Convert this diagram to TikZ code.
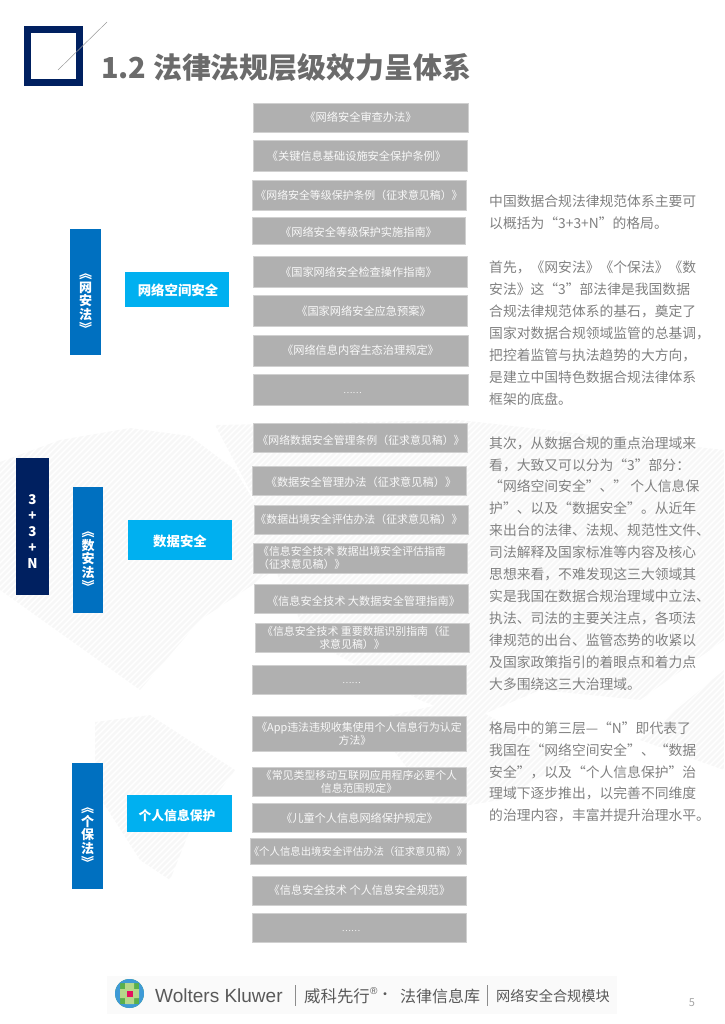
\documentclass[tikz,border=0pt]{standalone}
\usepackage{fontspec}
\setmainfont{Noto Sans CJK SC}
\newfontfamily\wkfont{Liberation Sans}
\usepackage{tikz}
\definecolor{navy}{HTML}{002060}
\definecolor{lawblue}{HTML}{0070C0}
\definecolor{skyblue}{HTML}{00B0F0}
\definecolor{lawgray}{HTML}{B0B0B0}
\definecolor{maphatch}{HTML}{F7F7F7}
\definecolor{wkblue}{HTML}{3E9AD6}
\definecolor{wkgreen}{HTML}{5AB04B}
\definecolor{wklight}{HTML}{B6D88A}
\definecolor{wkpink}{HTML}{E5125F}
\newcommand{\nudge}[2]{\hspace*{#1pt}\rule{0pt}{#2pt}}
\tikzset{
  lawbox/.style 2 args={
    fill=lawgray, draw=lawgray!60, line width=0.5pt, inner sep=0pt,
    minimum width=#1, minimum height=#2, align=center, text=white!92!lawgray,
    font=\fontsize{11.2}{13.2}\selectfont
  },
  narrowlaw/.style={font=\fontsize{10.9}{13.2}\selectfont},
  dotslaw/.style={font=\fontsize{8.6}{10}\selectfont},
  topicbox/.style 2 args={
    fill=skyblue, inner sep=0pt, minimum width=#1, minimum height=#2,
    text=white, font=\fontsize{13.4}{16}\selectfont\bfseries
  },
  actbox/.style 2 args={
    fill=lawblue, inner sep=0pt, minimum width=#1, minimum height=#2, align=center,
    text=white, font=\fontsize{13}{13.5}\selectfont\bfseries
  }
}
\begin{document}
\begin{tikzpicture}[x=1pt, y=1pt]
    \useasboundingbox (0,0) rectangle (724,-1024);

    % Map behind the boxes
    \begin{scope}
      \clip (0,-462) -- (60,-440) -- (130,-428) -- (190,-436) -- (235,-470) -- (290,-560)
        -- (200,-620) -- (140,-690) -- (70,-640) -- (0,-590) -- cycle
        (215,-425) -- (460,-420) -- (724,-450) -- (724,-640) -- (640,-700) -- (540,-690)
        -- (470,-720) -- (420,-700) -- (310,-640) -- (270,-560) -- (255,-500) -- cycle
        (95,-722) -- (150,-715) -- (235,-770) -- (190,-830) -- (170,-880) -- (140,-860) -- (95,-790) -- cycle
        (370,-720) -- (460,-700) -- (570,-760) -- (500,-800) -- (440,-810) -- cycle
        (640,-740) -- (724,-670) -- (724,-770) -- cycle;
      \foreach \k in {0,6,...,1800}
        \draw[maphatch, line width=2.6pt] (\k-800,-1000) -- (\k,-200);
    \end{scope}

    % Title mark
    \draw[navy, line width=7pt] (27.5,-29.5) rectangle (79,-82.5);
    \draw[gray!80, line width=0.5pt] (58,-70) -- (107,-22);
    \node[anchor=west, inner sep=0pt, text=black!58, font=\fontsize{28.9}{32}\selectfont\bfseries] (title) at (101,-68) {1.2 法律法规层级效力呈体系};

    % Left column
    \node[actbox={33}{137}, fill=navy, font=\fontsize{13.4}{16}\selectfont\bfseries] (sum) at (32.5,-526.5) {\rule{0pt}{19pt}3\\+\\3\\+\\N};
    \node[actbox={31}{126}] (act1) at (85.5,-292) {\rule{0pt}{27pt}︽\\[0.5pt]网\\安\\法\\[0.5pt]︾};
    \node[actbox={30}{126}] (act2) at (88,-550) {\rule{0pt}{27pt}︽\\[0.5pt]数\\安\\法\\[0.5pt]︾};
    \node[actbox={31}{126}] (act3) at (87.5,-826) {\rule{0pt}{27pt}︽\\[0.5pt]个\\保\\法\\[0.5pt]︾};
    \node[topicbox={104}{35}] (topic1) at (177,-289.5) {\nudge{2}{13}网络空间安全};
    \node[topicbox={104}{40}] (topic2) at (180,-540) {\rule{0pt}{15pt}数据安全};
    \node[topicbox={105}{37}, font=\fontsize{12.8}{16}\selectfont\bfseries] (topic3) at (179.5,-813.5) {\nudge{-5}{16}个人信息保护};

    % Laws of the first group
    \node[lawbox={215}{29}] (net1) at (360.5,-117.5) {《网络安全审查办法》};
    \node[lawbox={214}{31}] (net2) at (360.5,-155.5) {\nudge{-8}{10}《关键信息基础设施安全保护条例》};
    \node[lawbox={214}{30}, narrowlaw] (net3) at (359,-195) {《网络安全等级保护条例（征求意见稿）》};
    \node[lawbox={213}{27}] (net4) at (358.5,-231) {\nudge{0}{12}《网络安全等级保护实施指南》};
    \node[lawbox={214}{31}] (net5) at (360,-271.5) {\nudge{-3}{10}《国家网络安全检查操作指南》};
    \node[lawbox={214}{31}] (net6) at (360,-311) {\nudge{7}{10}《国家网络安全应急预案》};
    \node[lawbox={215}{31}] (net7) at (360.5,-350.5) {《网络信息内容生态治理规定》};
    \node[lawbox={215}{31}, dotslaw] (net8) at (360.5,-390) {\nudge{-16}{8}……};

    % Laws of the second group
    \node[lawbox={214}{29}, narrowlaw] (data1) at (360,-437.5) {\nudge{2}{16}《网络数据安全管理条例（征求意见稿）》};
    \node[lawbox={214}{29}] (data2) at (359.5,-480.5) {\nudge{3}{14}《数据安全管理办法（征求意见稿）》};
    \node[lawbox={214}{29}, narrowlaw] (data3) at (361,-519.5) {\nudge{-4}{10}《数据出境安全评估办法（征求意见稿）》};
    \node[lawbox={214}{30}, narrowlaw, align=left] (data4) at (360,-558) {《信息安全技术 数据出境安全评估指南\hspace*{16pt}\\（征求意见稿）》};
    \node[lawbox={214}{29}] (data5) at (361,-598.5) {\nudge{5}{14}《信息安全技术 大数据安全管理指南》};
    \node[lawbox={214}{29}, narrowlaw] (data6) at (362,-637.5) {\nudge{-12}{10}《信息安全技术 重要数据识别指南（征\\\nudge{-20}{10}求意见稿）》};
    \node[lawbox={214}{29}, dotslaw] (data7) at (359.5,-680) {\nudge{-16}{8}……};

    % Laws of the third group
    \node[lawbox={214}{35}, narrowlaw] (info1) at (359,-733.5) {\makebox[0pt][c]{《App违法违规收集使用个人信息行为认定}\\\nudge{-8}{10}方法》};
    \node[lawbox={214}{29}, narrowlaw] (info2) at (359,-781.5) {《常见类型移动互联网应用程序必要个人\\信息范围规定》};
    \node[lawbox={214}{29}] (info3) at (359.5,-818) {《儿童个人信息网络保护规定》};
    \node[lawbox={216}{26}, font=\fontsize{10.4}{12}\selectfont] (info4) at (358,-851.5) {\makebox[0pt][c]{《个人信息出境安全评估办法（征求意见稿）》}};
    \node[lawbox={214}{29}] (info5) at (359.5,-890.5) {《信息安全技术 个人信息安全规范》};
    \node[lawbox={214}{29}, dotslaw] (info6) at (359,-927.5) {\nudge{-16}{8}……};

    % Text on the right
    \node[anchor=north west, inner sep=0pt, align=left, text=black!50, font=\fontsize{13.8}{21.93}\selectfont] (body) at (489,-195) {%
      中国数据合规法律规范体系主要可\\
      以概括为“3+3+N”的格局。\\[21.93pt]
      首先，《网安法》《个保法》《数\\
      安法》这“3”部法律是我国数据\\
      合规法律规范体系的基石，奠定了\\
      国家对数据合规领域监管的总基调，\\
      把控着监管与执法趋势的大方向，\\
      是建立中国特色数据合规法律体系\\
      框架的底盘。\\[21.93pt]
      其次，从数据合规的重点治理域来\\
      看，大致又可以分为“3”部分：\\
      “网络空间安全”、” 个人信息保\\
      护”、以及“数据安全”。从近年\\
      来出台的法律、法规、规范性文件、\\
      司法解释及国家标准等内容及核心\\
      思想来看，不难发现这三大领域其\\
      实是我国在数据合规治理域中立法、\\
      执法、司法的主要关注点，各项法\\
      律规范的出台、监管态势的收紧以\\
      及国家政策指引的着眼点和着力点\\
      大多围绕这三大治理域。\\[21.93pt]
      格局中的第三层—“N”即代表了\\
      我国在“网络空间安全”、“数据\\
      安全”，以及“个人信息保护”治\\
      理域下逐步推出，以完善不同维度\\
      的治理内容，丰富并提升治理水平。};

    % Footer
    \fill[black!2] (107,-976) rectangle (617,-1014);
    \begin{scope}
      \clip (129.5,-993.5) circle (14.5);
      \fill[wkgreen] (115,-1008) rectangle (144,-979);
      \fill[wkblue] (115,-1008) rectangle (120,-979) (139,-1008) rectangle (144,-979);
      \fill[wkblue] (115,-1008) rectangle (144,-1004) (115,-983) rectangle (144,-979);
      \fill[wklight] (120,-989) rectangle (139,-998) (125,-983) rectangle (134,-1004);
    \end{scope}
    \fill[wkpink] (126.5,-990.5) rectangle (132.5,-996.5);
    \node[anchor=west, inner sep=0pt, text=black!65, font=\wkfont\fontsize{19}{20}\selectfont] (wk) at (155,-995.5) {Wolters Kluwer};
    \node[anchor=west, inner sep=0pt, text=black!65, font=\fontsize{16.4}{18}\selectfont] (wkcn) at (304,-996.5) {威科先行};
    \node[anchor=west, inner sep=0pt, text=black!65, font=\wkfont\fontsize{10}{12}\selectfont] (wkreg) at (370,-991) {®};
    \node[anchor=center, inner sep=0pt, text=black!65, font=\fontsize{14}{18}\selectfont] (wkdot) at (385,-996.5) {·};
    \node[anchor=west, inner sep=0pt, text=black!65, font=\fontsize{16}{18}\selectfont] (wkdb) at (400,-996.5) {法律信息库};
    \node[anchor=west, inner sep=0pt, text=black!65, font=\fontsize{14.2}{16}\selectfont] (wkmod) at (496,-996.5) {网络安全合规模块};
    \draw[black!45, line width=0.5pt] (295,-985) -- (295,-1006);
    \draw[black!45, line width=0.5pt] (487,-985) -- (487,-1006);
    \node[inner sep=0pt, text=black!35, font=\fontsize{11}{12}\selectfont] (pagenum) at (692,-1003) {5};
\end{tikzpicture}
\end{document}
